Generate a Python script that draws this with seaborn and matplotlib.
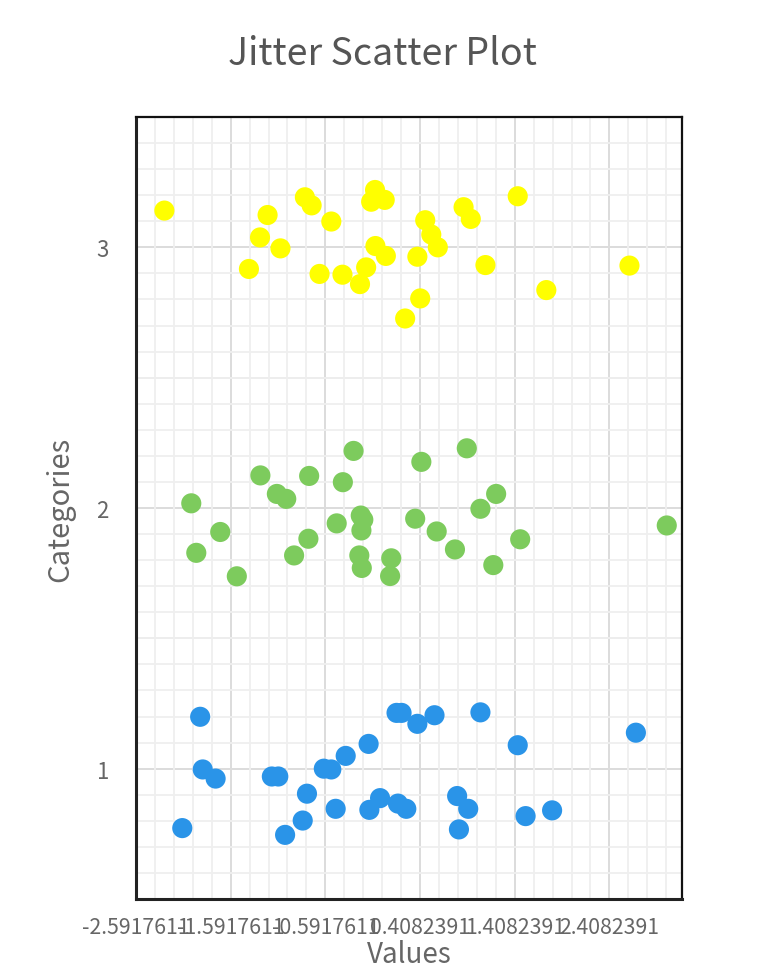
import numpy as np
import pandas as pd
import matplotlib
matplotlib.use("Agg")
import matplotlib.pyplot as plt
from matplotlib.ticker import FixedLocator, MultipleLocator
import seaborn as sns

# ---- data ----
cat1_x = [-1.914, -1.887, -1.751, -2.103, -1.157, -1.089, -0.786, -0.831, -1.017, -0.608,
          -0.529, -0.483, -0.377, -0.135, -0.127, -0.014, 0.160, 0.213, 0.380, 0.175,
          0.263, 0.561, 0.800, 0.917, 0.819, 1.046, 1.440, 1.523, 1.803, 2.688]
cat1_y = [1.199, 0.997, 0.962, 0.772, 0.970, 0.970, 0.904, 0.801, 0.746, 1.000,
          0.997, 0.846, 1.049, 1.095, 0.842, 0.887, 1.214, 1.214, 1.172, 0.866,
          0.846, 1.205, 0.895, 0.846, 0.767, 1.216, 1.090, 0.818, 0.840, 1.138]

cat2_x = [-2.008, -1.702, -1.955, -1.527, -1.278, -1.104, -1.005, -0.763, -0.771, -0.922,
          -0.472, -0.407, -0.294, -0.218, -0.191, -0.211, -0.233, -0.207, 0.104, 0.092,
          0.357, 0.422, 0.584, 0.777, 0.902, 1.046, 1.212, 1.182, 1.466, 3.014]
cat2_y = [2.018, 1.908, 1.828, 1.738, 2.125, 2.054, 2.035, 2.123, 1.882, 1.818,
          1.941, 2.099, 2.219, 1.971, 1.955, 1.914, 1.818, 1.770, 1.807, 1.739,
          1.959, 2.177, 1.910, 1.841, 2.229, 1.997, 2.054, 1.781, 1.880, 1.933]

cat3_x = [-2.292, -1.202, -1.282, -1.066, -1.399, -0.808, -0.737, -0.529, -0.653, -0.411,
          -0.161, -0.226, -0.067, -0.108, 0.035, -0.063, 0.047, 0.380, 0.463, 0.527,
          0.596, 0.410, 0.251, 0.868, 0.944, 1.099, 1.440, 1.742, 2.620]
cat3_y = [3.141, 3.124, 3.038, 2.996, 2.917, 3.192, 3.161, 3.099, 2.898, 2.895,
          2.923, 2.859, 3.220, 3.175, 3.182, 3.005, 2.967, 2.964, 3.104, 3.049,
          3.000, 2.804, 2.727, 3.154, 3.109, 2.932, 3.196, 2.836, 2.930]

categories = ["1", "2", "3"]
colors = ["#2A94E8", "#7DCB5D", "#FFFF00"]

x_tick_values = [-2.5917611, -1.5917611, -0.5917611, 0.4082389, 1.4082389, 2.4082389]
x_tick_labels = ["-2.5917611", "-1.5917611", "-0.5917611", "0.4082391", "1.4082391", "2.4082391"]
y_tick_values = [1, 2, 3]
y_tick_labels = ["1", "2", "3"]

df = pd.DataFrame({
    "Values": cat1_x + cat2_x + cat3_x,
    "Categories": cat1_y + cat2_y + cat3_y,
    "group": ["1"] * len(cat1_x) + ["2"] * len(cat2_x) + ["3"] * len(cat3_x),
})

# ---- style ----
sns.set_theme(style="white")
plt.rcParams["font.family"] = ["Noto Sans CJK SC", "DejaVu Sans"]

fig = plt.figure(figsize=(7.64, 9.78), dpi=100)
ax = fig.add_axes([136 / 764, 1 - 900 / 978, (682 - 136) / 764, (900 - 118) / 978])

ax.set_xlim(-2.5917611, 3.175)
ax.set_ylim(0.5, 3.5)

# grid
ax.set_axisbelow(True)
ax.xaxis.set_major_locator(FixedLocator(x_tick_values))
ax.xaxis.set_minor_locator(FixedLocator(list(np.arange(-2.5917611, 3.2, 0.2))))
ax.yaxis.set_major_locator(FixedLocator(y_tick_values))
ax.yaxis.set_minor_locator(MultipleLocator(0.1))
ax.grid(which="minor", color="#EFEFEF", linewidth=1.3)
ax.grid(which="major", axis="x", color="#DCDCDC", linewidth=1.4)
for yv in [1.0, 1.5, 2.0, 2.5, 3.0]:
    ax.axhline(yv, color="#DCDCDC", linewidth=1.4, zorder=0.5)

sns.scatterplot(data=df, x="Values", y="Categories", hue="group",
                hue_order=categories, palette=colors, s=210,
                edgecolor="none", linewidth=0, legend=False, ax=ax, zorder=3)

ax.set_xticks(x_tick_values)
ax.set_xticklabels(x_tick_labels)
ax.set_yticks(y_tick_values)
ax.set_yticklabels(y_tick_labels)

ax.tick_params(axis="x", which="both", length=0, pad=12, labelsize=15.3, labelcolor="#666666")
ax.tick_params(axis="y", which="major", length=11, width=2.2, direction="inout",
               color="#555555", pad=14, labelsize=16, labelcolor="#666666")
ax.tick_params(axis="y", which="minor", length=0)

for side in ["top", "right"]:
    ax.spines[side].set_color("#111111")
    ax.spines[side].set_linewidth(1.6)
for side in ["left", "bottom"]:
    ax.spines[side].set_color("#222222")
    ax.spines[side].set_linewidth(2.2)

ax.set_xlabel("Values", fontsize=20, color="#666666", labelpad=1)
ax.set_ylabel("Categories", fontsize=21, color="#666666", labelpad=15)

fig.suptitle("Jitter Scatter Plot", x=382 / 764, y=1 - 35 / 978, va="top",
             fontsize=27, color="#555555")

fig.savefig("out.png", dpi=100)
